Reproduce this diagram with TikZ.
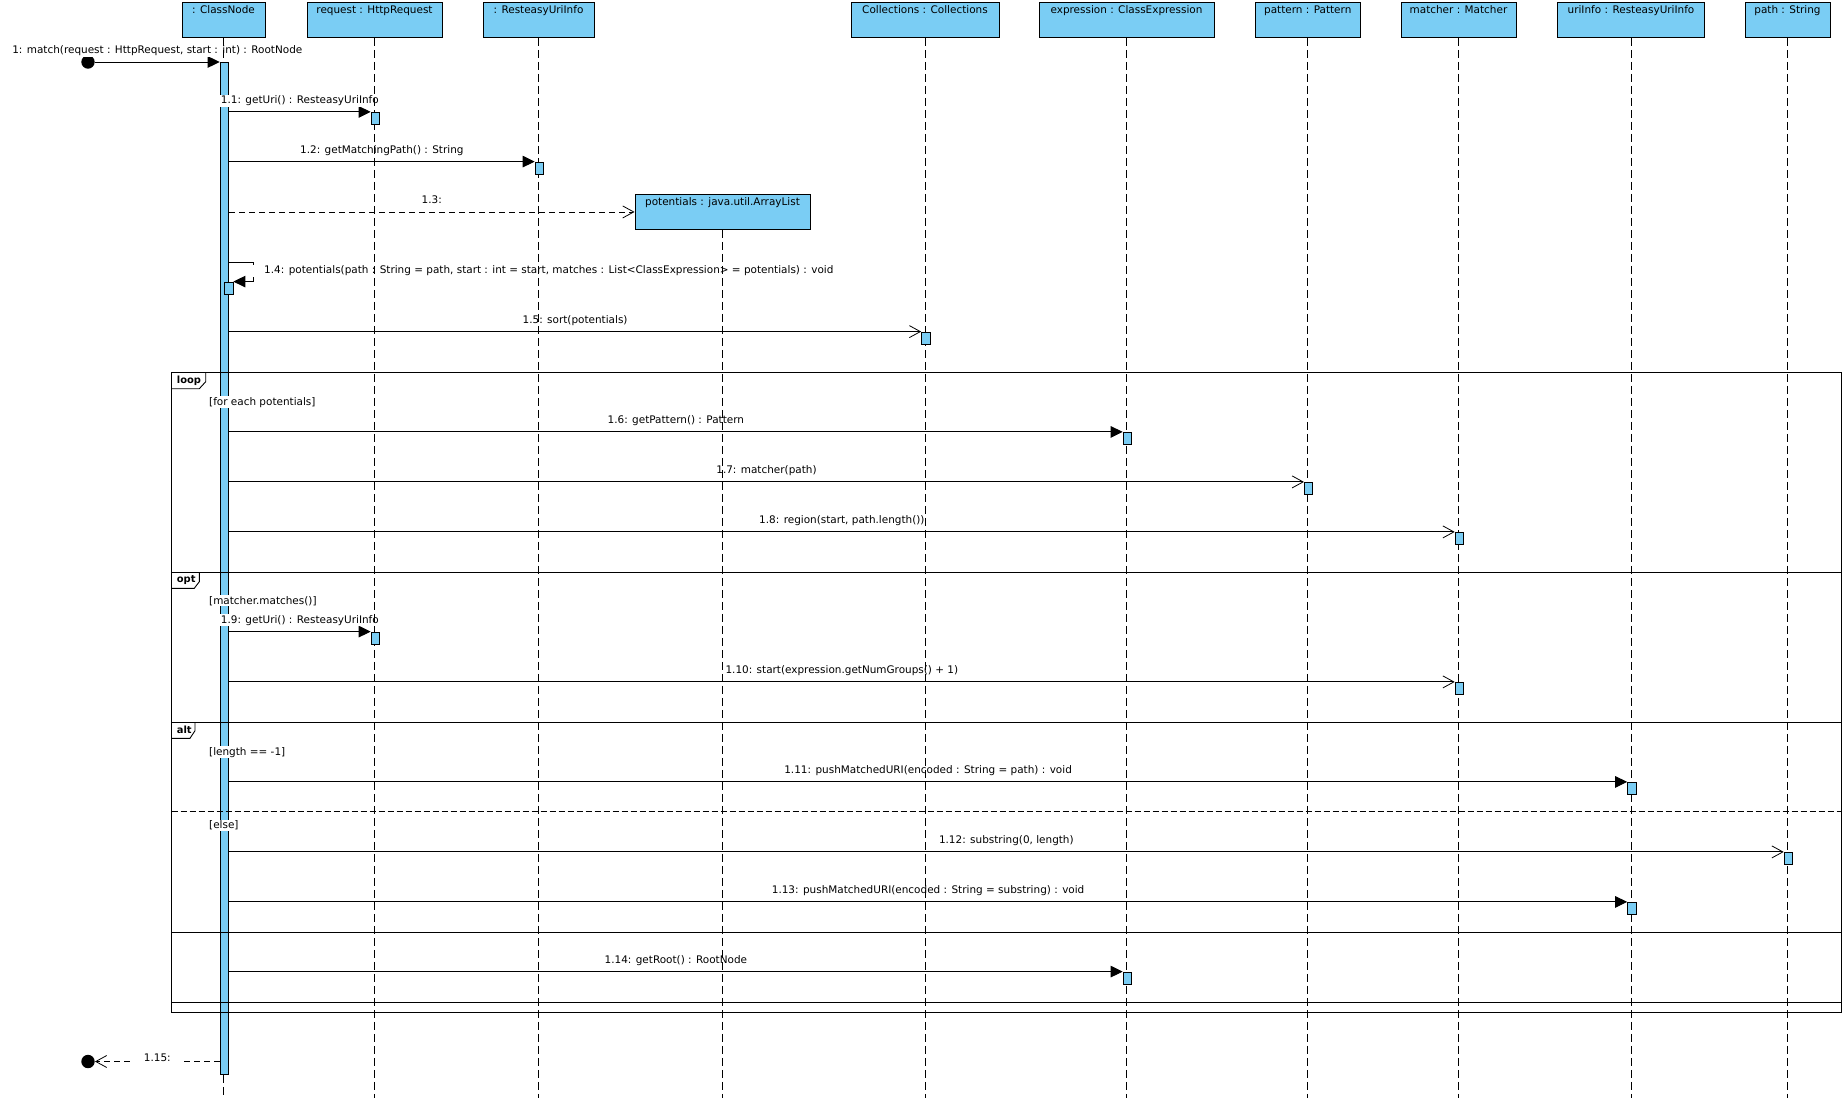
\documentclass[tikz,border=0pt]{standalone}
\usepackage{fontspec}
\setmainfont{DejaVu Sans}
\usetikzlibrary{arrows.meta}
\definecolor{lb}{RGB}{122,205,244}
\pgfdeclarelayer{life}
\pgfdeclarelayer{top}
\pgfsetlayers{main,life,top}
\tikzset{
  headbox/.style={draw, fill=lb, line width=0.9pt, minimum height=35pt, inner sep=0pt, anchor=north},
  headtxt/.style={anchor=base, inner sep=0pt},
  act/.style={draw, fill=lb, line width=0.8pt, minimum width=8.5pt, minimum height=12pt, inner sep=0pt},
  dot/.style={circle, fill=black, minimum size=13.4pt, inner sep=0pt},
  msg/.style={line width=0.9pt},
  sync/.style={msg, -{Triangle[length=12pt,width=11.5pt]}},
  async/.style={msg, -{Straight Barb[length=11pt,width=12pt,line width=0.8pt]}},
  asyncd/.style={async, dash pattern=on 6pt off 4pt},
  mlab/.style={midway, anchor=base, yshift=8.3pt, fill=white, inner xsep=1pt, inner ysep=1pt},
  guard/.style={anchor=base west, fill=white, inner sep=1pt},
  tabtxt/.style={anchor=base west, inner sep=0pt, font=\fontsize{9.9}{12}\selectfont\bfseries},
  frame/.style={line width=0.9pt},
  lifeline/.style={line width=0.8pt, dash pattern=on 8pt off 4pt}
}
\begin{document}
\begin{tikzpicture}[x=1pt,y=-1pt,font=\fontsize{10.45}{12.5}\selectfont]
\fill[white] (0,0) rectangle (1845,1098);
\useasboundingbox (0,0) rectangle (1845,1098);
\coordinate (bottom) at (0,1098);

% heads
\node[headbox, minimum width=83pt]  (cn)   at (223.5,2) {};
\node[headbox, minimum width=135pt] (req)  at (374.5,2) {};
\node[headbox, minimum width=111pt] (rui)  at (538.5,2) {};
\node[headbox, minimum width=148pt] (col)  at (925,2) {};
\node[headbox, minimum width=175pt] (exp)  at (1126.5,2) {};
\node[headbox, minimum width=104.5pt] (pat) at (1307.75,2) {};
\node[headbox, minimum width=115pt] (mat)  at (1458.5,2) {};
\node[headbox, minimum width=147pt] (uri)  at (1631,2) {};
\node[headbox, minimum width=85pt]  (path) at (1787.5,2) {};
\node[headbox, minimum width=175pt] (pot)  at (722.5,194) {};
\node[headtxt] (cnt)   at ([yshift=-11.3pt]cn.north)   {: ClassNode};
\node[headtxt] (reqt)  at ([yshift=-11.3pt]req.north)  {request : HttpRequest};
\node[headtxt] (ruit)  at ([yshift=-11.3pt]rui.north)  {: ResteasyUriInfo};
\node[headtxt] (colt)  at ([yshift=-11.3pt]col.north)  {Collections : Collections};
\node[headtxt] (expt)  at ([yshift=-11.3pt]exp.north)  {expression : ClassExpression};
\node[headtxt] (patt)  at ([yshift=-11.3pt]pat.north)  {pattern : Pattern};
\node[headtxt] (matt)  at ([yshift=-11.3pt]mat.north)  {matcher : Matcher};
\node[headtxt] (urit)  at ([yshift=-11.3pt]uri.north)  {uriInfo : ResteasyUriInfo};
\node[headtxt] (patht) at ([yshift=-11.3pt]path.north) {path : String};
\node[headtxt] (pott)  at ([yshift=-11.3pt]pot.north)  {potentials : java.util.ArrayList};

% main activation bar
\node[act, minimum height=1012pt, anchor=north] (cnbar) at (224.35,62) {};

% activation boxes (on top)
\begin{pgfonlayer}{top}
\node[act] (a11)  at (375.35,118.3) {};
\node[act] (a12)  at (539.35,168) {};
\node[act] (a14)  at (228.7,288) {};
\node[act] (a15)  at (925.85,338) {};
\node[act] (a16)  at (1127.35,438.3) {};
\node[act] (a17)  at (1308.6,488.3) {};
\node[act] (a18)  at (1459.35,538.3) {};
\node[act] (a19)  at (375.35,638) {};
\node[act] (a110) at (1459.35,688.3) {};
\node[act] (a111) at (1631.85,788.3) {};
\node[act] (a112) at (1788.35,858.3) {};
\node[act] (a113) at (1631.85,908.3) {};
\node[act] (a114) at (1127.35,978) {};
\end{pgfonlayer}

% frames
\draw[frame] (171.7,372.3) rectangle (1841.7,1012.3);
\draw[frame] (171.7,572.3) rectangle (1841.7,1002.3);
\draw[frame] (171.7,722.7) rectangle (1841.7,932.3);
\draw[frame, dash pattern=on 6pt off 3pt] (171.7,811.7) -- (1841.7,811.7);
\draw[frame] (171.7,388.7) -- (199.3,388.7) -- (205.7,381.7) -- (205.7,372.3);
\draw[frame] (171.7,588.3) -- (194.3,588.3) -- (199.3,581.7) -- (199.3,572.3);
\draw[frame] (171.7,738.3) -- (190,738.3) -- (195,730.7) -- (195,722.7);
\node[tabtxt] (tloop) at (176.7,383) {loop};
\node[tabtxt] (topt)  at (176.7,582.7) {opt};
\node[tabtxt] (talt)  at (176.7,733.3) {alt};
\node[guard] (g1) at (208,405) {[for each potentials]};
\node[guard] (g2) at (208,604) {[matcher.matches()]};
\node[guard] (g3) at (208,755) {[length == -1]};
\node[guard] (g4) at (208,828.5) {[else]};

% messages
\node[dot] (fstart) at (88,62) {};
\node[dot] (fend) at (88,1061.5) {};
\draw[sync] (fstart) -- (cnbar.west |- fstart) node[mlab] (l1) {1: match(request : HttpRequest, start : int) : RootNode};
\draw[sync] (cnbar.east |- a11.north) -- (a11.north west) node[mlab] (l11) {1.1: getUri() : ResteasyUriInfo};
\draw[sync] (cnbar.east |- a12.north) -- (a12.north west) node[mlab] (l12) {1.2: getMatchingPath() : String};
\draw[asyncd] (cnbar.east |- pot.west) -- (pot.west) node[mlab] (l13) {1.3:};
\coordinate (s14) at (253.3,262.3);
\draw[sync] (cnbar.east |- s14) -- (s14) -- (s14 |- a14.north) -- (a14.north east);
\node[anchor=base west, fill=white, inner xsep=12pt, inner ysep=1pt] (l14) at (252,273.5) {1.4: potentials(path : String = path, start : int = start, matches : List<ClassExpression> = potentials) : void};
\draw[async] (cnbar.east |- a15.north) -- (a15.north west) node[mlab] (l15) {1.5: sort(potentials)};
\draw[sync] (cnbar.east |- a16.north) -- (a16.north west) node[mlab] (l16) {1.6: getPattern() : Pattern};
\draw[async] (cnbar.east |- a17.north) -- (a17.north west) node[mlab] (l17) {1.7: matcher(path)};
\draw[async] (cnbar.east |- a18.north) -- (a18.north west) node[mlab] (l18) {1.8: region(start, path.length())};
\draw[sync] (cnbar.east |- a19.north) -- (a19.north west) node[mlab] (l19) {1.9: getUri() : ResteasyUriInfo};
\draw[async] (cnbar.east |- a110.north) -- (a110.north west) node[mlab] (l110) {1.10: start(expression.getNumGroups() + 1)};
\draw[sync] (cnbar.east |- a111.north) -- (a111.north west) node[mlab] (l111) {1.11: pushMatchedURI(encoded : String = path) : void};
\draw[async] (cnbar.east |- a112.north) -- (a112.north west) node[mlab] (l112) {1.12: substring(0, length)};
\draw[sync] (cnbar.east |- a113.north) -- (a113.north west) node[mlab] (l113) {1.13: pushMatchedURI(encoded : String = substring) : void};
\draw[sync] (cnbar.east |- a114.north) -- (a114.north west) node[mlab] (l114) {1.14: getRoot() : RootNode};
\draw[asyncd] (cnbar.west |- fend) -- (fend) node[midway, anchor=base, yshift=0.5pt, fill=white, inner xsep=12pt, inner ysep=2pt] (l115) {1.15:};

% lifelines
\begin{pgfonlayer}{life}
\foreach \n in {req,rui,col,exp,pat,mat,uri,path,pot}
  \draw[lifeline] (\n.south) -- (\n.south |- bottom);
\draw[lifeline] (cn.south) -- (cn.south |- cnbar.north);
\draw[lifeline] (cn.south |- cnbar.south) -- (cn.south |- bottom);
\end{pgfonlayer}
\end{tikzpicture}
\end{document}
